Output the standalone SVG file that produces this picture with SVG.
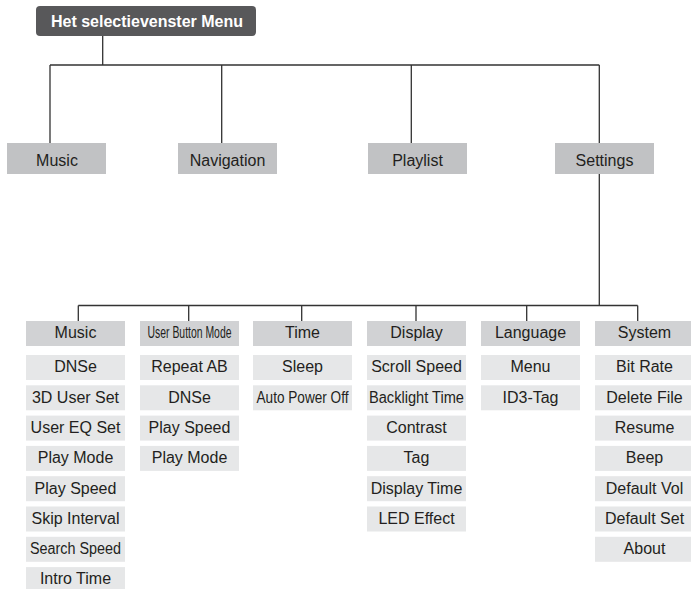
<svg xmlns="http://www.w3.org/2000/svg" width="691" height="589" viewBox="0 0 691 589">
<style>
text{font-family:"Liberation Sans",Arial,sans-serif;font-size:16px;fill:#231f20;text-anchor:middle}
.title{fill:#58585a}
.title-t{font-weight:bold;fill:#ffffff}
.l1{fill:#c1c2c4}
.hd{fill:#d1d2d4}
.it{fill:#e6e7e8}
.ln{stroke:#333333;stroke-width:1.3;fill:none}
</style>
<rect width="691" height="589" fill="#ffffff"/>
<g id="connectors">
<path class="ln" d="M102.7,36V65M50,65H599.3M50,65V143M221.7,65V143M411.3,65V143M599.3,65V143M599.3,174V305.5M78.3,305.5H637.7M78.3,305.5V321M188.7,305.5V321M301.7,305.5V321M416,305.5V321M526.7,305.5V321M637.7,305.5V321"/>
</g>
<g id="root"><rect class="title" x="36" y="6" width="220" height="30" rx="4"/><text class="title-t" x="147" y="26.7">Het selectievenster Menu</text></g>
<g id="l1-music"><rect class="l1" x="7" y="143" width="99" height="31"/><text x="57" y="165.7">Music</text></g>
<g id="l1-navigation"><rect class="l1" x="178" y="143" width="99" height="31"/><text x="227.5" y="165.7">Navigation</text></g>
<g id="l1-playlist"><rect class="l1" x="368" y="143" width="99" height="31"/><text x="417.5" y="165.7">Playlist</text></g>
<g id="l1-settings"><rect class="l1" x="555" y="143" width="99" height="31"/><text x="604.5" y="165.7">Settings</text></g>

<g id="h-music"><rect class="hd" x="26" y="321" width="99" height="25"/><text x="75.5" y="338.3">Music</text></g>
<g id="h-ubm"><rect class="hd" x="140" y="321" width="99" height="25"/><text x="189.5" y="338.3" textLength="84" lengthAdjust="spacingAndGlyphs">User Button Mode</text></g>
<g id="h-time"><rect class="hd" x="253" y="321" width="99" height="25"/><text x="302.5" y="338.3">Time</text></g>
<g id="h-display"><rect class="hd" x="367" y="321" width="99" height="25"/><text x="416.5" y="338.3">Display</text></g>
<g id="h-language"><rect class="hd" x="481" y="321" width="99" height="25"/><text x="530.5" y="338.3">Language</text></g>
<g id="h-system"><rect class="hd" x="595" y="321" width="99" height="25"/><text x="644.5" y="338.3">System</text></g>

<g id="music-1"><rect class="it" x="26" y="355" width="99" height="25"/><text x="75.5" y="372.3">DNSe</text></g>
<g id="music-2"><rect class="it" x="26" y="385.3" width="99" height="25"/><text x="75.5" y="402.6">3D User Set</text></g>
<g id="music-3"><rect class="it" x="26" y="415.6" width="99" height="25"/><text x="75.5" y="432.9">User EQ Set</text></g>
<g id="music-4"><rect class="it" x="26" y="445.9" width="99" height="25"/><text x="75.5" y="463.2">Play Mode</text></g>
<g id="music-5"><rect class="it" x="26" y="476.2" width="99" height="25"/><text x="75.5" y="493.5">Play Speed</text></g>
<g id="music-6"><rect class="it" x="26" y="506.5" width="99" height="25"/><text x="75.5" y="523.8">Skip Interval</text></g>
<g id="music-7"><rect class="it" x="26" y="536.8" width="99" height="25"/><text x="75.5" y="554.1" textLength="91" lengthAdjust="spacingAndGlyphs">Search Speed</text></g>
<g id="music-8"><rect class="it" x="26" y="567.1" width="99" height="25"/><text x="75.5" y="584.4">Intro Time</text></g>

<g id="ubm-1"><rect class="it" x="140" y="355" width="99" height="25"/><text x="189.5" y="372.3">Repeat AB</text></g>
<g id="ubm-2"><rect class="it" x="140" y="385.3" width="99" height="25"/><text x="189.5" y="402.6">DNSe</text></g>
<g id="ubm-3"><rect class="it" x="140" y="415.6" width="99" height="25"/><text x="189.5" y="432.9">Play Speed</text></g>
<g id="ubm-4"><rect class="it" x="140" y="445.9" width="99" height="25"/><text x="189.5" y="463.2">Play Mode</text></g>

<g id="time-1"><rect class="it" x="253" y="355" width="99" height="25"/><text x="302.5" y="372.3">Sleep</text></g>
<g id="time-2"><rect class="it" x="253" y="385.3" width="99" height="25"/><text x="302.5" y="402.6" textLength="92" lengthAdjust="spacingAndGlyphs">Auto Power Off</text></g>

<g id="display-1"><rect class="it" x="367" y="355" width="99" height="25"/><text x="416.5" y="372.3">Scroll Speed</text></g>
<g id="display-2"><rect class="it" x="367" y="385.3" width="99" height="25"/><text x="416.5" y="402.6" textLength="95" lengthAdjust="spacingAndGlyphs">Backlight Time</text></g>
<g id="display-3"><rect class="it" x="367" y="415.6" width="99" height="25"/><text x="416.5" y="432.9">Contrast</text></g>
<g id="display-4"><rect class="it" x="367" y="445.9" width="99" height="25"/><text x="416.5" y="463.2">Tag</text></g>
<g id="display-5"><rect class="it" x="367" y="476.2" width="99" height="25"/><text x="416.5" y="493.5">Display Time</text></g>
<g id="display-6"><rect class="it" x="367" y="506.5" width="99" height="25"/><text x="416.5" y="523.8">LED Effect</text></g>

<g id="language-1"><rect class="it" x="481" y="355" width="99" height="25"/><text x="530.5" y="372.3">Menu</text></g>
<g id="language-2"><rect class="it" x="481" y="385.3" width="99" height="25"/><text x="530.5" y="402.6">ID3-Tag</text></g>

<g id="system-1"><rect class="it" x="595" y="355" width="99" height="25"/><text x="644.5" y="372.3">Bit Rate</text></g>
<g id="system-2"><rect class="it" x="595" y="385.3" width="99" height="25"/><text x="644.5" y="402.6">Delete File</text></g>
<g id="system-3"><rect class="it" x="595" y="415.6" width="99" height="25"/><text x="644.5" y="432.9">Resume</text></g>
<g id="system-4"><rect class="it" x="595" y="445.9" width="99" height="25"/><text x="644.5" y="463.2">Beep</text></g>
<g id="system-5"><rect class="it" x="595" y="476.2" width="99" height="25"/><text x="644.5" y="493.5">Default Vol</text></g>
<g id="system-6"><rect class="it" x="595" y="506.5" width="99" height="25"/><text x="644.5" y="523.8">Default Set</text></g>
<g id="system-7"><rect class="it" x="595" y="536.8" width="99" height="25"/><text x="644.5" y="554.1">About</text></g>
</svg>
